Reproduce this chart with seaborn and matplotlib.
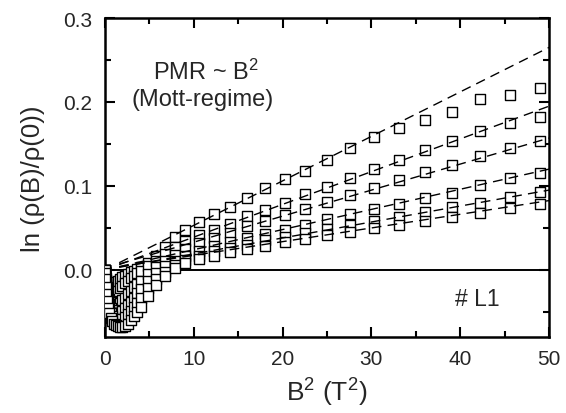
import matplotlib
matplotlib.use("Agg")
import matplotlib.pyplot as plt
from matplotlib.ticker import MultipleLocator
import seaborn as sns
import pandas as pd
import numpy as np

# ---- data ----
b_squared = [0, 0.01, 0.04, 0.09, 0.16, 0.25, 0.36, 0.49, 0.64, 0.81, 1.0, 1.21, 1.44, 1.69,
             1.96, 2.25, 2.56, 2.89, 3.24, 3.61, 4.0, 4.84, 5.76, 6.76, 7.84, 9.0, 10.56,
             12.25, 14.06, 16.0, 18.06, 20.25, 22.56, 25.0, 27.56, 30.25, 33.06, 36.0,
             39.06, 42.25, 45.56, 49.0]

series_1 = [0, -0.002, -0.006, -0.010, -0.013, -0.016, -0.018, -0.019, -0.019, -0.018, -0.017,
            -0.015, -0.013, -0.011, -0.009, -0.007, -0.005, -0.003, -0.001, 0.001, 0.003, 0.008,
            0.016, 0.027, 0.039, 0.048, 0.057, 0.066, 0.075, 0.086, 0.097, 0.108, 0.118, 0.131,
            0.145, 0.158, 0.169, 0.179, 0.188, 0.203, 0.208, 0.217]
series_2 = [0, -0.002, -0.007, -0.012, -0.017, -0.021, -0.025, -0.028, -0.030, -0.030, -0.029,
            -0.027, -0.025, -0.022, -0.019, -0.016, -0.013, -0.010, -0.007, -0.004, -0.001, 0.005,
            0.011, 0.019, 0.027, 0.034, 0.041, 0.048, 0.055, 0.064, 0.071, 0.080, 0.090, 0.099,
            0.109, 0.120, 0.131, 0.143, 0.154, 0.166, 0.175, 0.182]
series_3 = [0, -0.003, -0.008, -0.014, -0.020, -0.026, -0.031, -0.035, -0.038, -0.041, -0.042,
            -0.042, -0.041, -0.039, -0.036, -0.033, -0.029, -0.025, -0.021, -0.017, -0.013, -0.005,
            0.003, 0.011, 0.018, 0.025, 0.032, 0.038, 0.044, 0.052, 0.058, 0.065, 0.073, 0.081,
            0.089, 0.097, 0.107, 0.116, 0.125, 0.136, 0.145, 0.153]
series_4 = [0, -0.003, -0.009, -0.016, -0.023, -0.030, -0.036, -0.041, -0.045, -0.048, -0.051,
            -0.052, -0.052, -0.051, -0.049, -0.046, -0.042, -0.038, -0.033, -0.028, -0.023, -0.013,
            -0.004, 0.004, 0.011, 0.017, 0.022, 0.028, 0.033, 0.038, 0.043, 0.048, 0.054, 0.060,
            0.066, 0.072, 0.078, 0.086, 0.092, 0.101, 0.109, 0.115]
series_5 = [0, -0.003, -0.010, -0.018, -0.026, -0.034, -0.041, -0.047, -0.052, -0.055, -0.058,
            -0.060, -0.060, -0.060, -0.058, -0.056, -0.053, -0.049, -0.044, -0.039, -0.034, -0.022,
            -0.011, -0.002, 0.006, 0.012, 0.017, 0.022, 0.026, 0.030, 0.035, 0.039, 0.044, 0.049,
            0.053, 0.058, 0.063, 0.069, 0.075, 0.080, 0.087, 0.093]
series_6 = [0, -0.004, -0.011, -0.020, -0.029, -0.037, -0.045, -0.052, -0.057, -0.061, -0.064,
            -0.066, -0.067, -0.068, -0.068, -0.067, -0.064, -0.060, -0.055, -0.050, -0.044, -0.031,
            -0.018, -0.007, 0.002, 0.008, 0.013, 0.017, 0.021, 0.025, 0.029, 0.033, 0.037, 0.041,
            0.045, 0.050, 0.054, 0.058, 0.063, 0.068, 0.074, 0.078]

fit_slope = [0.0053, 0.0039, 0.0031, 0.0024, 0.0019, 0.00163]
fit_intercept = [0.0, 0.0, 0.002, 0.0, 0.0, 0.001]
fit_range = [1.6, 50.0]

x_ticks = [0, 10, 20, 30, 40, 50]
y_ticks = [0.0, 0.1, 0.2, 0.3]

# ---- tables ----
all_series = [series_1, series_2, series_3, series_4, series_5, series_6]
rows = []
for i, vals in enumerate(all_series):
    for xb, v in zip(b_squared, vals):
        rows.append({"B2": xb, "lnrho": v, "series": f"s{i+1}"})
df = pd.DataFrame(rows)

fit_rows = []
for i, (k, a) in enumerate(zip(fit_slope, fit_intercept)):
    for xb in fit_range:
        fit_rows.append({"B2": xb, "lnrho": a + k * xb, "series": f"s{i+1}"})
df_fit = pd.DataFrame(fit_rows)

# ---- style ----
sns.set_style("ticks")
plt.rcParams["font.family"] = ["Liberation Sans", "DejaVu Sans"]
plt.rcParams["mathtext.fontset"] = "custom"
plt.rcParams["mathtext.rm"] = "Liberation Sans"
plt.rcParams["mathtext.it"] = "Liberation Sans:italic"
plt.rcParams["mathtext.bf"] = "Liberation Sans:bold"

fig = plt.figure(figsize=(5.66, 4.14), dpi=100)
ax = fig.add_axes([0.1855, 0.1836, 0.7845, 0.7704])

sns.scatterplot(data=df, x="B2", y="lnrho", hue="series", palette=["black"] * 6,
                marker="s", s=42, facecolor="white", edgecolor="black", linewidth=1.0,
                legend=False, ax=ax, zorder=3)
for coll in ax.collections:
    coll.set_facecolor("white")
    coll.set_edgecolor("black")

sns.lineplot(data=df_fit, x="B2", y="lnrho", units="series", estimator=None,
             color="black", linewidth=1.0, dashes=False, legend=False, ax=ax, zorder=4)
for ln in ax.lines:
    ln.set_dashes((7, 4.5))

ax.axhline(0.0, color="black", linewidth=1.4, zorder=2)

ax.set_xlim(0, 50)
ax.set_ylim(-0.08, 0.3)
ax.set_xticks(x_ticks)
ax.set_yticks(y_ticks)
ax.set_yticklabels([f"{t:.1f}" for t in y_ticks])
ax.xaxis.set_minor_locator(MultipleLocator(5))
ax.yaxis.set_minor_locator(MultipleLocator(0.05))
ax.tick_params(which="both", direction="in", top=True, right=True, width=1.5,
               labelsize=15, color="black")
ax.tick_params(which="major", length=7, pad=9)
ax.tick_params(which="minor", length=4)
for sp in ax.spines.values():
    sp.set_linewidth(1.8)
    sp.set_color("black")

ax.set_xlabel("B$^2$ (T$^2$)", fontsize=19, labelpad=5)
ax.set_ylabel("ln (ρ(B)/ρ(0))", fontsize=18.5, labelpad=13)

ax.text(5.4, 0.2275, "PMR ~ B$^2$", fontsize=17, va="baseline", ha="left")
ax.text(3.0, 0.196, "(Mott-regime)", fontsize=17, va="baseline", ha="left")
ax.text(39.4, -0.042, "# L1", fontsize=16.5, va="baseline", ha="left")

fig.savefig("out.png", dpi=100)
